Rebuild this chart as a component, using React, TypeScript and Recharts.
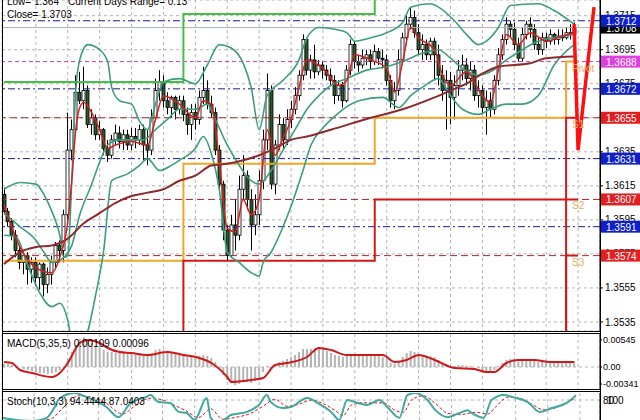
import React from "react";
import {
  Bar,
  CartesianGrid,
  ComposedChart,
  Line,
  ReferenceDot,
  ReferenceLine,
  XAxis,
  YAxis,
} from "recharts";

const FONT = "'Liberation Sans', Arial, sans-serif";

// 30 min bars (144 bars)
const opens = [
  1.361, 1.36, 1.3594, 1.3586, 1.3577, 1.357, 1.3574, 1.3566, 1.357, 1.3561,
  1.3569, 1.3557, 1.3563, 1.357, 1.358, 1.3577, 1.3598, 1.3636, 1.3648, 1.367,
  1.3665, 1.3671, 1.3651, 1.3655, 1.3645, 1.3648, 1.3637, 1.3633, 1.3642, 1.3646,
  1.3641, 1.3645, 1.3639, 1.3644, 1.3642, 1.3648, 1.3639, 1.3636, 1.3655, 1.3671,
  1.3676, 1.3665, 1.3661, 1.3667, 1.366, 1.3665, 1.3657, 1.3651, 1.3658, 1.3654,
  1.3667, 1.3671, 1.3663, 1.3658, 1.3636, 1.3616, 1.3589, 1.3574, 1.3592, 1.3586,
  1.3613, 1.3621, 1.3607, 1.3592, 1.3598, 1.3618, 1.3642, 1.3671, 1.3616, 1.3639,
  1.3651, 1.3642, 1.3654, 1.366, 1.3668, 1.368, 1.3701, 1.3683, 1.3689, 1.3682,
  1.3686, 1.3683, 1.368, 1.3677, 1.3668, 1.3674, 1.3665, 1.3683, 1.3698, 1.3688,
  1.3686, 1.369, 1.3692, 1.3688, 1.3694, 1.369, 1.3689, 1.3677, 1.3665, 1.3671,
  1.3689, 1.3702, 1.371, 1.3714, 1.3705, 1.3695, 1.3698, 1.3692, 1.37, 1.3692,
  1.368, 1.3671, 1.3677, 1.3667, 1.3674, 1.3683, 1.3686, 1.3678, 1.3683, 1.3668,
  1.3671, 1.3661, 1.3665, 1.366, 1.3677, 1.3692, 1.3701, 1.371, 1.3707, 1.3698,
  1.369, 1.3704, 1.371, 1.3707, 1.3698, 1.3695, 1.3702, 1.37, 1.3704, 1.3701,
  1.3703, 1.3702, 1.3705, 1.3704,
];
const highs = [
  1.3614, 1.3602, 1.3596, 1.3589, 1.358, 1.3577, 1.3576, 1.3573, 1.3573, 1.357,
  1.357, 1.3567, 1.3574, 1.3582, 1.3583, 1.3601, 1.3658, 1.3654, 1.368, 1.3682,
  1.3685, 1.3674, 1.366, 1.3657, 1.3653, 1.3649, 1.3642, 1.3645, 1.3651, 1.365,
  1.3648, 1.3648, 1.3649, 1.3649, 1.3651, 1.3651, 1.3648, 1.366, 1.3678, 1.3683,
  1.368, 1.367, 1.3668, 1.3668, 1.3668, 1.3668, 1.3661, 1.3663, 1.3663, 1.3671,
  1.3685, 1.3677, 1.3668, 1.3661, 1.3639, 1.3618, 1.3592, 1.3598, 1.3607, 1.3621,
  1.3633, 1.3624, 1.3613, 1.361, 1.3624, 1.3648, 1.3681, 1.3674, 1.3642, 1.3657,
  1.3655, 1.366, 1.3665, 1.3673, 1.3683, 1.3704, 1.3702, 1.3692, 1.3698, 1.3689,
  1.3688, 1.3686, 1.3684, 1.368, 1.3677, 1.3676, 1.3686, 1.3701, 1.37, 1.3692,
  1.3695, 1.3695, 1.3695, 1.3698, 1.3696, 1.3695, 1.3692, 1.368, 1.3676, 1.3695,
  1.3705, 1.3715, 1.372, 1.3718, 1.371, 1.3704, 1.3701, 1.3702, 1.3702, 1.3698,
  1.3686, 1.3683, 1.3682, 1.368, 1.3689, 1.3692, 1.369, 1.3688, 1.3686, 1.3677,
  1.3674, 1.3671, 1.367, 1.368, 1.3696, 1.3704, 1.3714, 1.3712, 1.3711, 1.3702,
  1.3708, 1.3712, 1.3714, 1.371, 1.3702, 1.3705, 1.3705, 1.3707, 1.3705, 1.3707,
  1.3707, 1.3708, 1.371, 1.3711,
];
const lows = [
  1.3598, 1.3591, 1.3583, 1.3573, 1.3566, 1.3563, 1.3557, 1.3558, 1.3556, 1.3554,
  1.355, 1.3552, 1.3557, 1.3566, 1.357, 1.357, 1.3595, 1.363, 1.3645, 1.3663,
  1.366, 1.3649, 1.3645, 1.3642, 1.3642, 1.3633, 1.3629, 1.3631, 1.3639, 1.3637,
  1.3636, 1.3636, 1.3636, 1.3637, 1.3639, 1.363, 1.3627, 1.3633, 1.3653, 1.3665,
  1.3661, 1.3657, 1.3655, 1.3654, 1.3657, 1.3653, 1.3645, 1.3642, 1.3648, 1.3651,
  1.3663, 1.366, 1.3655, 1.3633, 1.3613, 1.3583, 1.3571, 1.3573, 1.3577, 1.3583,
  1.3607, 1.3601, 1.3577, 1.3586, 1.3592, 1.3613, 1.3636, 1.3613, 1.361, 1.3636,
  1.3637, 1.3639, 1.3649, 1.3657, 1.3665, 1.3677, 1.368, 1.3678, 1.3678, 1.368,
  1.3678, 1.3677, 1.3674, 1.3663, 1.3665, 1.3661, 1.3664, 1.368, 1.3684, 1.3682,
  1.3684, 1.3686, 1.3683, 1.3686, 1.3686, 1.3684, 1.3674, 1.3661, 1.366, 1.3668,
  1.3686, 1.3698, 1.3707, 1.3702, 1.3692, 1.3689, 1.3689, 1.3689, 1.3677, 1.3674,
  1.3665, 1.3648, 1.3651, 1.3654, 1.3668, 1.3677, 1.3674, 1.3671, 1.3665, 1.3661,
  1.3657, 1.3645, 1.3655, 1.3657, 1.3674, 1.3689, 1.3698, 1.3702, 1.3695, 1.3688,
  1.3688, 1.3701, 1.3702, 1.3695, 1.3692, 1.3692, 1.3696, 1.3698, 1.3698, 1.3698,
  1.37, 1.3701, 1.3701, 1.3702,
];
const closes = [
  1.36, 1.3594, 1.3586, 1.3577, 1.357, 1.3574, 1.3566, 1.357, 1.3561, 1.3569,
  1.3557, 1.3563, 1.357, 1.358, 1.3577, 1.3598, 1.3636, 1.3648, 1.367, 1.3665,
  1.3671, 1.3651, 1.3655, 1.3645, 1.3648, 1.3637, 1.3633, 1.3642, 1.3646, 1.3641,
  1.3645, 1.3639, 1.3644, 1.3642, 1.3648, 1.3639, 1.3636, 1.3655, 1.3671, 1.3676,
  1.3665, 1.3661, 1.3667, 1.366, 1.3665, 1.3657, 1.3651, 1.3658, 1.3654, 1.3667,
  1.3671, 1.3663, 1.3658, 1.3636, 1.3616, 1.3589, 1.3574, 1.3592, 1.3586, 1.3613,
  1.3621, 1.3607, 1.3592, 1.3598, 1.3618, 1.3642, 1.3671, 1.3616, 1.3639, 1.3651,
  1.3642, 1.3654, 1.366, 1.3668, 1.368, 1.3701, 1.3683, 1.3689, 1.3682, 1.3686,
  1.3683, 1.368, 1.3677, 1.3668, 1.3674, 1.3665, 1.3683, 1.3698, 1.3688, 1.3686,
  1.369, 1.3692, 1.3688, 1.3694, 1.369, 1.3689, 1.3677, 1.3665, 1.3671, 1.3689,
  1.3702, 1.371, 1.3714, 1.3705, 1.3695, 1.3698, 1.3692, 1.37, 1.3692, 1.368,
  1.3671, 1.3677, 1.3667, 1.3674, 1.3683, 1.3686, 1.3678, 1.3683, 1.3668, 1.3671,
  1.3661, 1.3665, 1.366, 1.3677, 1.3692, 1.3701, 1.371, 1.3707, 1.3698, 1.369,
  1.3704, 1.371, 1.3707, 1.3698, 1.3695, 1.3702, 1.37, 1.3704, 1.3701, 1.3703,
  1.3702, 1.3705, 1.3704, 1.3708,
];

// indicator lines, [bar, value] read at a few bars each
const fastMa: [number, number][] = [
  [0, 1.3604], [4, 1.3579], [8, 1.3567], [12, 1.3564], [14, 1.3573], [16, 1.3594],
  [17, 1.3618], [18, 1.3648], [19, 1.3661], [20, 1.3664], [22, 1.3658], [24, 1.3648],
  [26, 1.3637], [28, 1.3639], [32, 1.3641], [36, 1.3639], [38, 1.3654], [40, 1.3668],
  [44, 1.3663], [48, 1.3655], [50, 1.3665], [52, 1.3663], [54, 1.363], [56, 1.359],
  [58, 1.3588], [60, 1.3607], [62, 1.3598], [64, 1.3607], [66, 1.3648], [68, 1.3633],
  [70, 1.3643], [72, 1.3654], [74, 1.3673], [76, 1.3689], [80, 1.3684], [84, 1.3674],
  [86, 1.3677], [88, 1.3692], [92, 1.3689], [96, 1.3684], [98, 1.367], [100, 1.3688],
  [102, 1.3708], [104, 1.3702], [108, 1.3695], [110, 1.368], [112, 1.3674], [116, 1.3682],
  [120, 1.3668], [122, 1.3664], [124, 1.3683], [126, 1.3704], [129, 1.3698], [132, 1.3705],
  [136, 1.37], [140, 1.3703], [143, 1.3705],
];
const slowMa: [number, number][] = [
  [0, 1.3569], [4, 1.3576], [8, 1.3579], [12, 1.358], [16, 1.3584], [20, 1.3593],
  [24, 1.3599], [28, 1.3605], [32, 1.3609], [36, 1.3611], [40, 1.3613], [44, 1.3618],
  [48, 1.3621], [52, 1.3627], [56, 1.3628], [60, 1.363], [64, 1.3633], [68, 1.3637],
  [72, 1.3642], [76, 1.3644], [82, 1.3648], [92, 1.3655], [100, 1.366], [108, 1.3667],
  [112, 1.3671], [116, 1.3675], [120, 1.3681], [124, 1.3685], [132, 1.3687], [136, 1.369],
  [143, 1.3691],
];
const bandUpper: [number, number][] = [
  [0, 1.3613], [4, 1.3617], [8, 1.3616], [10, 1.361], [12, 1.36], [14, 1.3586],
  [15, 1.3573], [16, 1.3574], [17, 1.3618], [18, 1.3671], [19, 1.3689], [21, 1.3698],
  [24, 1.3695], [26, 1.3688], [27, 1.3673], [29, 1.3665], [32, 1.3663], [34, 1.3653],
  [36, 1.3648], [38, 1.3663], [40, 1.3676], [44, 1.3678], [48, 1.3675], [51, 1.3686],
  [54, 1.3698], [57, 1.3696], [60, 1.3687], [62, 1.3673], [64, 1.3648], [66, 1.3668],
  [70, 1.3677], [74, 1.3689], [76, 1.3702], [79, 1.3708], [83, 1.3707], [86, 1.3705],
  [88, 1.37], [92, 1.3702], [96, 1.3705], [100, 1.3711], [102, 1.372], [107, 1.3722],
  [109, 1.372], [113, 1.3712], [116, 1.3704], [119, 1.3698], [121, 1.37], [124, 1.3708],
  [127, 1.3721], [134, 1.3722], [138, 1.3718], [143, 1.371],
];
const bandMid: [number, number][] = [
  [0, 1.3599], [4, 1.3591], [8, 1.3583], [10, 1.3576], [12, 1.357], [15, 1.3573],
  [17, 1.358], [19, 1.3598], [22, 1.3616], [24, 1.3629], [26, 1.3639], [29, 1.3642],
  [32, 1.3642], [35, 1.3642], [38, 1.3648], [41, 1.3654], [44, 1.366], [48, 1.366],
  [51, 1.3663], [53, 1.3654], [56, 1.3639], [59, 1.3627], [62, 1.3618], [64, 1.3616],
  [67, 1.3624], [70, 1.3636], [73, 1.3648], [76, 1.366], [79, 1.3668], [82, 1.3674],
  [86, 1.3678], [91, 1.3683], [96, 1.3685], [100, 1.3688], [105, 1.3693], [109, 1.3695],
  [112, 1.369], [115, 1.3684], [119, 1.368], [122, 1.3682], [126, 1.3689], [130, 1.3695],
  [134, 1.37], [138, 1.3702], [143, 1.3704],
];
const bandLower: [number, number][] = [
  [0, 1.3586], [3, 1.3585], [6, 1.3568], [9, 1.3552], [12, 1.3544], [14, 1.3546],
  [16, 1.3536], [17, 1.3525], [20, 1.3525], [23, 1.3551], [25, 1.3577], [27, 1.3618],
  [31, 1.3622], [34, 1.3627], [36, 1.3631], [39, 1.3624], [42, 1.3627], [44, 1.363],
  [48, 1.3637], [50, 1.3644], [52, 1.3634], [54, 1.3613], [56, 1.3576], [59, 1.357],
  [62, 1.3564], [64, 1.3562], [65, 1.357], [67, 1.3576], [70, 1.3591], [72, 1.3603],
  [75, 1.3624], [77, 1.3639], [80, 1.3649], [83, 1.3656], [89, 1.3665], [95, 1.3667],
  [99, 1.3661], [102, 1.3668], [105, 1.3673], [109, 1.3678], [112, 1.3668], [115, 1.366],
  [119, 1.3657], [122, 1.366], [126, 1.3663], [130, 1.3663], [134, 1.3668], [138, 1.3686],
  [143, 1.3698],
];
const forecast: [number, number][] = [[143, 1.371], [144, 1.3636], [148, 1.372]];

// daily pivot levels, stepping at each new day
const dayStart = [0, 45, 93, 141, 144];
const r1Day = [1.3676, 1.3716, 1.3745, 1.3745, 1.3745];
const pivotDay = [1.3571, 1.3628, 1.3655, 1.3688, 1.3688];
const s1Day = [1.35, 1.3571, 1.3607, 1.3655, 1.3655];
const s2Day = [1.35, 1.35, 1.35, 1.3607, 1.3607];
const s3Day = [1.35, 1.35, 1.35, 1.3574, 1.3574];

// horizontal levels with their price boxes
const blueLevels = [1.3712, 1.3672, 1.3631, 1.3591];
const redLevels = [1.3655, 1.3607, 1.3574];
const pivotLevel = 1.3688;
const lastPrice = 1.3708;
const levelTags = ["Pivot", "S1", "S2", "S3"];
const levelTagValues = [1.3688, 1.3655, 1.3607, 1.3574];
const priceTicks = [1.3715, 1.3695, 1.3675, 1.3655, 1.3635, 1.3615, 1.3595, 1.3575, 1.3555, 1.3535];
const PRICE_DOMAIN: [number, number] = [1.35297, 1.37242];

// MACD(5,35,5)
const macdHist = [
  0.0006, 0.0006, 0.0004, 0.0002, 0.0,
  -0.0004, -0.0006, -0.0008, -0.001, -0.0012, -0.0012, -0.0014, -0.0012, -0.001, -0.0006,
  0.0, 0.0016, 0.003, 0.0044, 0.0056, 0.006, 0.0054, 0.0048, 0.0042, 0.0038,
  0.0034, 0.003, 0.003, 0.0028, 0.0028, 0.0028, 0.0028, 0.0026, 0.0026, 0.0028,
  0.0024, 0.0022, 0.0026, 0.0034, 0.0036, 0.0034, 0.003, 0.0028, 0.0026, 0.0024,
  0.0022, 0.002, 0.002, 0.002, 0.0022, 0.0024, 0.0022, 0.0018, 0.001, -0.0006,
  -0.0016, -0.0026, -0.0032, -0.0036, -0.0034, -0.003, -0.003, -0.0032, -0.0028, -0.002,
  -0.001, 0.0002, -0.0002, 0.0004, 0.001, 0.0012, 0.0016, 0.002, 0.0024, 0.003,
  0.0036, 0.0036, 0.0036, 0.0038, 0.0038, 0.0036, 0.0032, 0.0028, 0.0024, 0.0022,
  0.002, 0.0022, 0.0026, 0.0024, 0.0024, 0.0024, 0.0024, 0.0022, 0.0022, 0.0022,
  0.002, 0.0016, 0.0008, 0.0006, 0.0012, 0.002, 0.0028, 0.0032, 0.003, 0.0026,
  0.0024, 0.0022, 0.0022, 0.002, 0.0014, 0.0008, 0.0006, 0.0002, 0.0002, 0.0004,
  0.0004, 0.0002, 0.0002, 0.0, -0.0002, -0.0006, -0.0008, -0.001, -0.0006, 0.0002,
  0.0008, 0.0014, 0.0016, 0.0014, 0.001, 0.0012, 0.0016, 0.0016, 0.0012, 0.001,
  0.0012, 0.0012, 0.0012, 0.0012, 0.0012, 0.0012, 0.0011, 0.0011, 0.0011,
];
const macdSignal: [number, number][] = [
  [0, 0.001], [2, 0.0008], [4, -0.0006], [7, -0.0012], [12, -0.002], [14, -0.0012],
  [16, 0.0008], [19, 0.0048], [21, 0.0054], [24, 0.0048], [26, 0.0038], [29, 0.003],
  [32, 0.0028], [36, 0.0024], [41, 0.003], [45, 0.0024], [49, 0.0018], [52, 0.0008],
  [56, -0.002], [57, -0.003], [62, -0.0026], [65, -0.0022], [68, 0.0004], [71, 0.0008],
  [76, 0.002], [79, 0.0038], [82, 0.0034], [86, 0.0024], [95, 0.0024], [98, 0.001],
  [101, 0.0014], [104, 0.0024], [108, 0.0014], [113, -0.0002], [118, -0.0004], [121, -0.001],
  [123, -0.001], [126, 0.0008], [129, 0.0014], [133, 0.0014], [137, 0.001], [143, 0.001],
];
const macdTicks = [0.00545, 0, -0.00341];

// Stoch(10,3,3)
const stochMain: [number, number][] = [
  [0, 29], [4, 22], [8, 20], [11, 28], [13, 57], [14, 80], [16, 95], [18, 100],
  [21, 89], [24, 74], [26, 60], [29, 31], [32, 71], [36, 89], [37, 94], [39, 74],
  [42, 71], [44, 46], [46, 43], [48, 23], [51, 86], [52, 29], [54, 14], [57, 37],
  [61, 46], [64, 66], [66, 94], [67, 74], [70, 57], [72, 60], [76, 86], [79, 69],
  [82, 46], [84, 23], [86, 80], [88, 74], [91, 66], [94, 80], [96, 60], [99, 29],
  [101, 94], [103, 100], [106, 80], [108, 51], [111, 31], [114, 43], [116, 51], [117, 43],
  [120, 29], [122, 80], [125, 94], [127, 89], [131, 74], [134, 46], [137, 57], [141, 74],
  [143, 94],
];
const stochSignal: [number, number][] = [
  [0, 30], [6, 20], [12, 25], [15, 55], [19, 92], [23, 86], [26, 70], [30, 40],
  [33, 62], [37, 85], [40, 80], [43, 65], [46, 48], [49, 30], [52, 55], [55, 25],
  [58, 30], [62, 42], [65, 62], [68, 82], [71, 62], [74, 68], [77, 80], [80, 70],
  [83, 50], [85, 35], [87, 65], [90, 72], [95, 72], [98, 50], [100, 45], [102, 80],
  [105, 92], [108, 70], [111, 42], [114, 38], [118, 45], [121, 40], [123, 60], [126, 88],
  [129, 85], [132, 68], [135, 52], [139, 62], [143, 87],
];

const SLOTS = 150;
const gridTicks = Array.from({ length: 18 }, (_, k) => (k + 1) * 8);

const rows: any[] = Array.from({ length: SLOTS }, (_, i) => ({ i }));
opens.forEach((o, i) => {
  rows[i].open = o;
  rows[i].high = highs[i];
  rows[i].low = lows[i];
  rows[i].close = closes[i];
  rows[i].range = [lows[i], highs[i]];
  rows[i].hist = macdHist[i];
});
const put = (key: string, pts: [number, number][]) =>
  pts.forEach(([i, v]) => (rows[i][key] = v));
put("fast", fastMa);
put("slow", slowMa);
put("bbU", bandUpper);
put("bbM", bandMid);
put("bbL", bandLower);
put("fc", forecast);
put("sig", macdSignal);
put("stK", stochMain);
put("stD", stochSignal);
dayStart.forEach((d, k) => {
  rows[d].r1 = r1Day[k];
  rows[d].pv = pivotDay[k];
  rows[d].s1 = s1Day[k];
  rows[d].s2 = s2Day[k];
  rows[d].s3 = s3Day[k];
});

function Candle(props: any) {
  const { x, y, width, height, payload } = props;
  if (!payload || payload.high == null) return null;
  const top = Math.min(y, y + height);
  const h = Math.abs(height);
  const span = payload.high - payload.low;
  const py = (p: number) => top + (span ? ((payload.high - p) / span) * h : 0);
  const cx = Math.round(x + width / 2) + 0.5;
  const bTop = py(Math.max(payload.open, payload.close));
  const bBot = py(Math.min(payload.open, payload.close));
  const up = payload.close >= payload.open;
  return (
    <g>
      <line x1={cx} x2={cx} y1={top} y2={top + h} stroke="#000" strokeWidth={1} />
      <rect
        x={cx - 1.5}
        y={bTop}
        width={3}
        height={Math.max(bBot - bTop, 1)}
        fill={up ? "#ffffff" : "#2b5a2b"}
        stroke="#000"
        strokeWidth={0.8}
      />
    </g>
  );
}

const priceBox = (text: string, bg: string) => (p: any) => {
  const vb = p.viewBox || {};
  const x = vb.x + vb.width + 1;
  const y = vb.y;
  return (
    <g>
      <rect x={x} y={y - 6} width={39} height={12} fill={bg} />
      <text x={x + 5} y={y + 4} fill="#fff" fontSize={10} fontFamily={FONT}>
        {text}
      </text>
    </g>
  );
};

const tagLabel = (text: string) => (p: any) => {
  const vb = p.viewBox || {};
  return (
    <text x={vb.x + 2} y={vb.y + 10} fill="#e0b060" fontSize={10} fontFamily={FONT}>
      {text}
    </text>
  );
};

const lineCommon = {
  dot: false,
  activeDot: false,
  isAnimationActive: false,
  connectNulls: true,
} as const;

function MainPanel() {
  return (
    <ComposedChart
      width={640}
      height={331}
      data={rows}
      margin={{ top: 0, right: 0, bottom: 0, left: 2 }}
    >
      <CartesianGrid stroke="#b4b4b4" strokeDasharray="3 3" />
      <XAxis dataKey="i" type="category" ticks={gridTicks} interval={0} hide />
      <YAxis
        orientation="right"
        width={40}
        domain={PRICE_DOMAIN}
        allowDataOverflow
        ticks={priceTicks}
        tickFormatter={(v: number) => v.toFixed(4)}
        tick={{ fontSize: 10, fill: "#000", fontFamily: FONT }}
        tickSize={3}
        stroke="#000"
      />
      {redLevels.map((v) => (
        <ReferenceLine key={"r" + v} y={v} stroke="#a52a2a" strokeDasharray="7 4" />
      ))}
      <ReferenceLine y={lastPrice} stroke="#b0b0b0" />
      <ReferenceLine y={pivotLevel} stroke="#c040c0" strokeDasharray="4 3" />
      {blueLevels.map((v) => (
        <ReferenceLine key={"b" + v} y={v} stroke="#1a1a8c" strokeDasharray="7 3 2 3" />
      ))}
      <Line dataKey="r1" type="stepAfter" stroke="#44c044" strokeWidth={2} {...lineCommon} />
      <Line dataKey="pv" type="stepAfter" stroke="#f0a828" strokeWidth={2} {...lineCommon} />
      <Line dataKey="s1" type="stepAfter" stroke="#d41818" strokeWidth={2} {...lineCommon} />
      <Line dataKey="s2" type="stepAfter" stroke="#d41818" strokeWidth={2} {...lineCommon} />
      <Line dataKey="s3" type="stepAfter" stroke="#d41818" strokeWidth={2} {...lineCommon} />
      <Bar dataKey="range" barSize={3} shape={Candle} isAnimationActive={false} />
      <Line dataKey="bbU" type="monotone" stroke="#3c9e7e" strokeWidth={1.6} {...lineCommon} />
      <Line dataKey="bbM" type="monotone" stroke="#3c9e7e" strokeWidth={1.6} {...lineCommon} />
      <Line dataKey="bbL" type="monotone" stroke="#3c9e7e" strokeWidth={1.6} {...lineCommon} />
      <Line dataKey="slow" type="monotone" stroke="#8c2b2b" strokeWidth={2} {...lineCommon} />
      <Line dataKey="fast" type="monotone" stroke="#d42020" strokeWidth={1.5} {...lineCommon} />
      <Line dataKey="fc" type="linear" stroke="#ff1010" strokeWidth={3.5} {...lineCommon} />
      {levelTags.map((t, k) => (
        <ReferenceDot
          key={t}
          x={142}
          y={levelTagValues[k]}
          r={0}
          fill="none"
          stroke="none"
          label={tagLabel(t)}
        />
      ))}
    </ComposedChart>
  );
}

// same scales as the main panel, drawn on top so the price boxes cover the tick labels
function PriceBoxes() {
  return (
    <ComposedChart
      width={640}
      height={331}
      data={rows}
      margin={{ top: 0, right: 0, bottom: 0, left: 2 }}
    >
      <XAxis dataKey="i" type="category" hide />
      <YAxis
        orientation="right"
        width={40}
        domain={PRICE_DOMAIN}
        allowDataOverflow
        tick={false}
        tickLine={false}
        axisLine={false}
      />
      <ReferenceLine
        y={lastPrice}
        stroke="none"
        label={priceBox(lastPrice.toFixed(4), "#000000")}
      />
      {redLevels.map((v) => (
        <ReferenceLine key={"r" + v} y={v} stroke="none" label={priceBox(v.toFixed(4), "#e02020")} />
      ))}
      <ReferenceLine
        y={pivotLevel}
        stroke="none"
        label={priceBox(pivotLevel.toFixed(4), "#e040e0")}
      />
      {blueLevels.map((v) => (
        <ReferenceLine key={"b" + v} y={v} stroke="none" label={priceBox(v.toFixed(4), "#1020c8")} />
      ))}
    </ComposedChart>
  );
}

function MacdPanel() {
  return (
    <ComposedChart
      width={640}
      height={55}
      data={rows}
      margin={{ top: 0, right: 0, bottom: 0, left: 2 }}
    >
      <CartesianGrid stroke="#b4b4b4" strokeDasharray="3 3" horizontal={false} />
      <XAxis dataKey="i" type="category" ticks={gridTicks} interval={0} hide />
      <YAxis
        orientation="right"
        width={40}
        domain={[-0.0044, 0.0066]}
        allowDataOverflow
        ticks={macdTicks}
        tickFormatter={(v: number) => (v === 0 ? "0.00" : v.toFixed(5))}
        tick={{ fontSize: 9, fill: "#000", fontFamily: FONT }}
        tickSize={2}
        tickMargin={1}
        stroke="#000"
      />
      <ReferenceLine y={0} stroke="#b4b4b4" strokeDasharray="3 3" />
      <Bar dataKey="hist" fill="#b4b4b4" barSize={2} isAnimationActive={false} />
      <Line dataKey="sig" type="monotone" stroke="#d01818" strokeWidth={2} {...lineCommon} />
    </ComposedChart>
  );
}

function StochPanel() {
  return (
    <ComposedChart
      width={640}
      height={35}
      data={rows}
      margin={{ top: 0, right: 0, bottom: 0, left: 2 }}
    >
      <CartesianGrid stroke="#b4b4b4" strokeDasharray="3 3" horizontal={false} />
      <XAxis dataKey="i" type="category" ticks={gridTicks} interval={0} hide />
      <YAxis orientation="right" width={40} domain={[0, 100]} ticks={[]} tick={false} stroke="#000" />
      <ReferenceLine y={80} stroke="#b4b4b4" strokeDasharray="3 3" />
      <Line
        dataKey="stD"
        type="monotone"
        stroke="#d01818"
        strokeWidth={1}
        strokeDasharray="3 2"
        {...lineCommon}
      />
      <Line dataKey="stK" type="monotone" stroke="#3fa8a0" strokeWidth={2} {...lineCommon} />
    </ComposedChart>
  );
}

export default function App() {
  const txt = { fontSize: 10, fontFamily: FONT, fill: "#000" };
  return (
    <div
      style={{
        position: "absolute",
        left: 0,
        top: 0,
        width: 640,
        height: 420,
        overflow: "hidden",
        background: "#fff",
      }}
    >
      <div style={{ position: "absolute", left: 0, top: 0 }}>
        <MainPanel />
      </div>
      <div style={{ position: "absolute", left: 0, top: 0, pointerEvents: "none" }}>
        <PriceBoxes />
      </div>
      <div style={{ position: "absolute", left: 0, top: 334 }}>
        <MacdPanel />
      </div>
      <div style={{ position: "absolute", left: 0, top: 393 }}>
        <StochPanel />
      </div>
      <svg
        width={640}
        height={420}
        style={{ position: "absolute", left: 0, top: 0, pointerEvents: "none" }}
      >
        <line x1={2.5} x2={2.5} y1={0} y2={420} stroke="#000" />
        <line x1={600.5} x2={600.5} y1={0} y2={420} stroke="#000" />
        <line x1={2} x2={601} y1={331.5} y2={331.5} stroke="#000" />
        <line x1={2} x2={601} y1={333.5} y2={333.5} stroke="#000" />
        <line x1={2} x2={601} y1={389.5} y2={389.5} stroke="#000" />
        <line x1={2} x2={601} y1={391.5} y2={391.5} stroke="#000" />
        <text x={7} y={5} {...txt}>Low= 1.364</text>
        <text x={68} y={5} {...txt}>Current Days Range= 0.13</text>
        <text x={7} y={18} {...txt}>Close= 1.3703</text>
        <text x={7} y={347} {...txt}>MACD(5,35,5) 0.00109 0.00096</text>
        <text x={7} y={405} {...txt}>Stoch(10,3,3) 94.4444 87.0403</text>
        <text x={603} y={404} {...txt}>80</text>
        <text x={607} y={404} {...txt}>100</text>
      </svg>
    </div>
  );
}
